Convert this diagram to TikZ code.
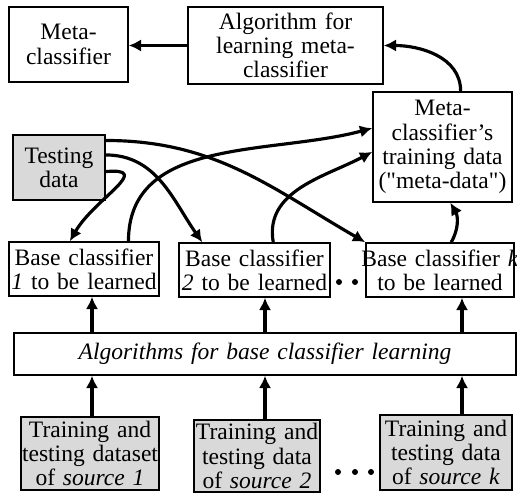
\documentclass[tikz,border=0pt]{standalone}
\usepackage{fontspec}
\setmainfont{Liberation Serif}
\usetikzlibrary{arrows.meta,calc,positioning}
\newcommand{\straightdq}{\XeTeXglyph\XeTeXcharglyph"22\relax}

\begin{document}
\begin{tikzpicture}[x=0.02cm,y=0.02cm,
	box/.style={draw,line width=0.9pt,inner xsep=0pt,inner ysep=0pt,align=center,font=\fontsize{13.4}{13.8}\selectfont},
	databox/.style={box,fill=black!15},
	flow/.style={line width=1.8pt,-{Latex[length=7pt,width=7pt]}}]
	\useasboundingbox (0,0) rectangle (517,493);
	
	% upper part: meta-level
	\node[box,text width=2.38cm,minimum height=1.5cm] (meta) at (68.5,448.5) {Meta-\\classifier};
	\node[box,text width=3.9cm,minimum height=1.54cm] (alg) at (285.5,447.5) {Algorithm for\\learning meta-\\classifier};
	\node[box,text width=2.78cm,minimum height=2.2cm] (mdata) at (442.5,346) {Meta-\\classifier's\\training data\\(\straightdq meta-data\straightdq)};
	\node[databox,text width=1.84cm,minimum height=1.3cm] (test) at (59,325.5) {Testing\\data};
	
	% base classifiers
	\node[box,text width=3cm,minimum height=1.08cm] (base1) at (84,224) {Base classifier\\\textit{1} to be learned};
	\node[box,text width=3.02cm,minimum height=1.08cm] (base2) at (254.5,223) {Base classifier\\\textit{2} to be learned};
	\node[box,text width=2.96cm,minimum height=1.08cm] (basek) at (440,223) {\makebox[\linewidth][c]{Base classifier \textit{k}}\\to be learned};
	\foreach \x in {339,355} \fill (\x,211) circle (3);
	
	\node[box,text width=10.04cm,minimum height=0.84cm] (algo) at (265,139) {\textit{Algorithms for base classifier learning}};
	
	% sources
	\node[databox,text width=2.76cm,minimum height=1.46cm] (src1) at (90,39.5) {Training and\\testing dataset\\of \textit{source 1}};
	\node[databox,text width=2.52cm,minimum height=1.44cm] (src2) at (257,37) {Training and\\testing data\\of \textit{source 2}};
	\node[databox,text width=2.64cm,minimum height=1.5cm] (srck) at (446,40.5) {Training and\\testing data\\of \textit{source k}};
	\foreach \x in {338,355,371} \fill (\x,21) circle (3);
	
	\coordinate (c1) at (92,0);
	\coordinate (c2) at (265,0);
	\coordinate (ck) at (462,0);
	\foreach \c/\s/\b in {c1/src1/base1,c2/src2/base2,ck/srck/basek} {
		\draw[flow] (\s.north -| \c) -- (algo.south -| \c);
		\draw[flow] (algo.north -| \c) -- (\b.south -| \c);
	}
	
	\draw[flow] (alg.west) -- (alg.west -| meta.east);
	\draw[flow] (mdata.72) to[out=90,in=0] (alg.east);
	
	\draw[flow] (test.30) to[out=0,in=150] (basek.north west);
	\draw[flow] (test.15) to[out=0,in=125] (base2.152);
	\draw[flow] (test.-5) to[out=5,in=60,looseness=1.6] (base1.117);
	\draw[flow] (base1.32) to[out=90,in=195] (mdata.165);
	\draw[flow] (base2.56) to[out=100,in=208] (mdata.184);
	\draw[flow] (basek.68) to[out=60,in=-60] (mdata.-82);
\end{tikzpicture}
\end{document}
